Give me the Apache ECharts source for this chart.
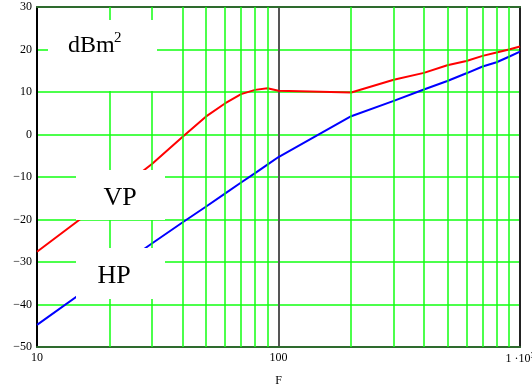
<!DOCTYPE html>
<html>
<head>
<meta charset="utf-8">
<script src="https://cdn.jsdelivr.net/npm/echarts@6/dist/echarts.min.js"></script>
<style>
  html, body { margin: 0; padding: 0; background: #fff; }
  #chart { width: 532px; height: 390px; }
</style>
</head>
<body>
<div id="chart"></div>
<script>
// frequency points (log axis)
var freq = [10, 20, 30, 40, 50, 60, 70, 80, 90, 100, 200, 300, 400, 500, 600, 700, 800, 900, 1000];
// VP curve, dBm^2
var vpValues = [-27.6, -14.7, -6.9, -0.6, 4.2, 7.3, 9.5, 10.5, 10.9, 10.3, 9.9, 12.9, 14.5, 16.3, 17.3, 18.5, 19.3, 20.0, 20.7];
// HP curve, dBm^2
var hpValues = [-44.8, -32.6, -25.6, -20.7, -17.0, -13.9, -11.3, -9.1, -7.1, -5.3, 4.3, 7.9, 10.6, 12.6, 14.4, 16.0, 17.0, 18.3, 19.5];
// minor vertical grid lines
var minorGridF = [20, 30, 40, 50, 60, 70, 80, 90, 200, 300, 400, 500, 600, 700, 800, 900];
var yMin = -50, yMax = 30, yStep = 10;

function pairs(xs, ys) {
  var out = [];
  xs.forEach(function (x, i) {
    out.push([x, ys[i]]);
  });
  return out;
}

var serif = "'Liberation Serif', 'DejaVu Serif', serif";
var green = "#11ff11";
var darkGreen = "#2e6b2e";

var myChart = echarts.init(document.getElementById("chart"));

var minorLines = minorGridF.map(function (f) {
  return { xAxis: f };
});

var option = {
  animation: false,
  backgroundColor: "#fff",
  grid: { left: 37, right: 12, top: 7, bottom: 43, containLabel: false, outerBoundsMode: "none" },
  xAxis: [
    {
      type: "log",
      logBase: 10,
      min: 10,
      max: 1000,
      name: "F",
      nameLocation: "middle",
      nameGap: 28,
      nameTextStyle: { color: "#000", fontFamily: serif, fontSize: 12 },
      axisLine: { onZero: false, lineStyle: { color: darkGreen, width: 2 } },
      axisTick: { show: false },
      axisLabel: {
        color: "#000",
        fontFamily: serif,
        fontSize: 12,
        margin: 5,
        formatter: function (val) {
          if (val >= 1000) return "1 \u00b710{s|3}";
          return String(val);
        },
        rich: {
          s: { fontFamily: serif, fontSize: 8, verticalAlign: "top", padding: [0, 0, 6, 0] }
        }
      },
      splitLine: {
        show: true,
        lineStyle: { color: ["#000", "#555", "#222"], width: 2 }
      }
    },
    {
      // top border
      type: "log",
      logBase: 10,
      min: 10,
      max: 1000,
      position: "top",
      axisLine: { onZero: false, lineStyle: { color: darkGreen, width: 2 } },
      axisTick: { show: false },
      axisLabel: { show: false },
      splitLine: { show: false }
    }
  ],
  yAxis: [
    {
      type: "value",
      min: yMin,
      max: yMax,
      interval: yStep,
      axisLine: { show: true, onZero: false, lineStyle: { color: "#000", width: 2 } },
      axisTick: { show: false },
      axisLabel: {
        color: "#000",
        fontFamily: serif,
        fontSize: 12,
        margin: 5,
        formatter: function (val) {
          return String(val).replace("-", "\u2212");
        }
      },
      splitLine: {
        show: true,
        lineStyle: { color: green, width: 1.5 }
      }
    },
    {
      // right border
      type: "value",
      min: yMin,
      max: yMax,
      interval: yStep,
      position: "right",
      axisLine: { show: true, onZero: false, lineStyle: { color: "#222", width: 2 } },
      axisTick: { show: false },
      axisLabel: { show: false },
      splitLine: { show: false }
    }
  ],
  series: [
    {
      name: "grid",
      type: "line",
      data: [],
      z: 1,
      silent: true,
      markLine: {
        silent: true,
        symbol: "none",
        label: { show: false },
        lineStyle: { color: green, width: 1.5, type: "solid" },
        data: minorLines
      }
    },
    {
      name: "VP",
      type: "line",
      data: pairs(freq, vpValues),
      showSymbol: false,
      z: 3,
      lineStyle: { color: "#ff0000", width: 2 },
      itemStyle: { color: "#ff0000" }
    },
    {
      name: "HP",
      type: "line",
      data: pairs(freq, hpValues),
      showSymbol: false,
      z: 3,
      lineStyle: { color: "#0000ff", width: 2 },
      itemStyle: { color: "#0000ff" }
    }
  ],
  graphic: [
    { type: "rect", z: 100, shape: { x: 48, y: 20, width: 109, height: 71 }, style: { fill: "#fff" } },
    { type: "text", z: 101, x: 68, y: 58, style: { text: "dBm", fontFamily: serif, fontSize: 24, fill: "#000", textVerticalAlign: "bottom" } },
    { type: "text", z: 101, x: 114, y: 46, style: { text: "2", fontFamily: serif, fontSize: 15, fill: "#000", textVerticalAlign: "bottom" } },
    { type: "rect", z: 100, shape: { x: 76, y: 170, width: 89, height: 50 }, style: { fill: "#fff" } },
    { type: "text", z: 101, x: 120, y: 198, style: { text: "VP", fontFamily: serif, fontSize: 26, fill: "#000", textAlign: "center", textVerticalAlign: "middle" } },
    { type: "rect", z: 100, shape: { x: 76, y: 248, width: 89, height: 51 }, style: { fill: "#fff" } },
    { type: "text", z: 101, x: 114, y: 276, style: { text: "HP", fontFamily: serif, fontSize: 26, fill: "#000", textAlign: "center", textVerticalAlign: "middle" } }
  ]
};

myChart.setOption(option, true);
</script>
</body>
</html>
